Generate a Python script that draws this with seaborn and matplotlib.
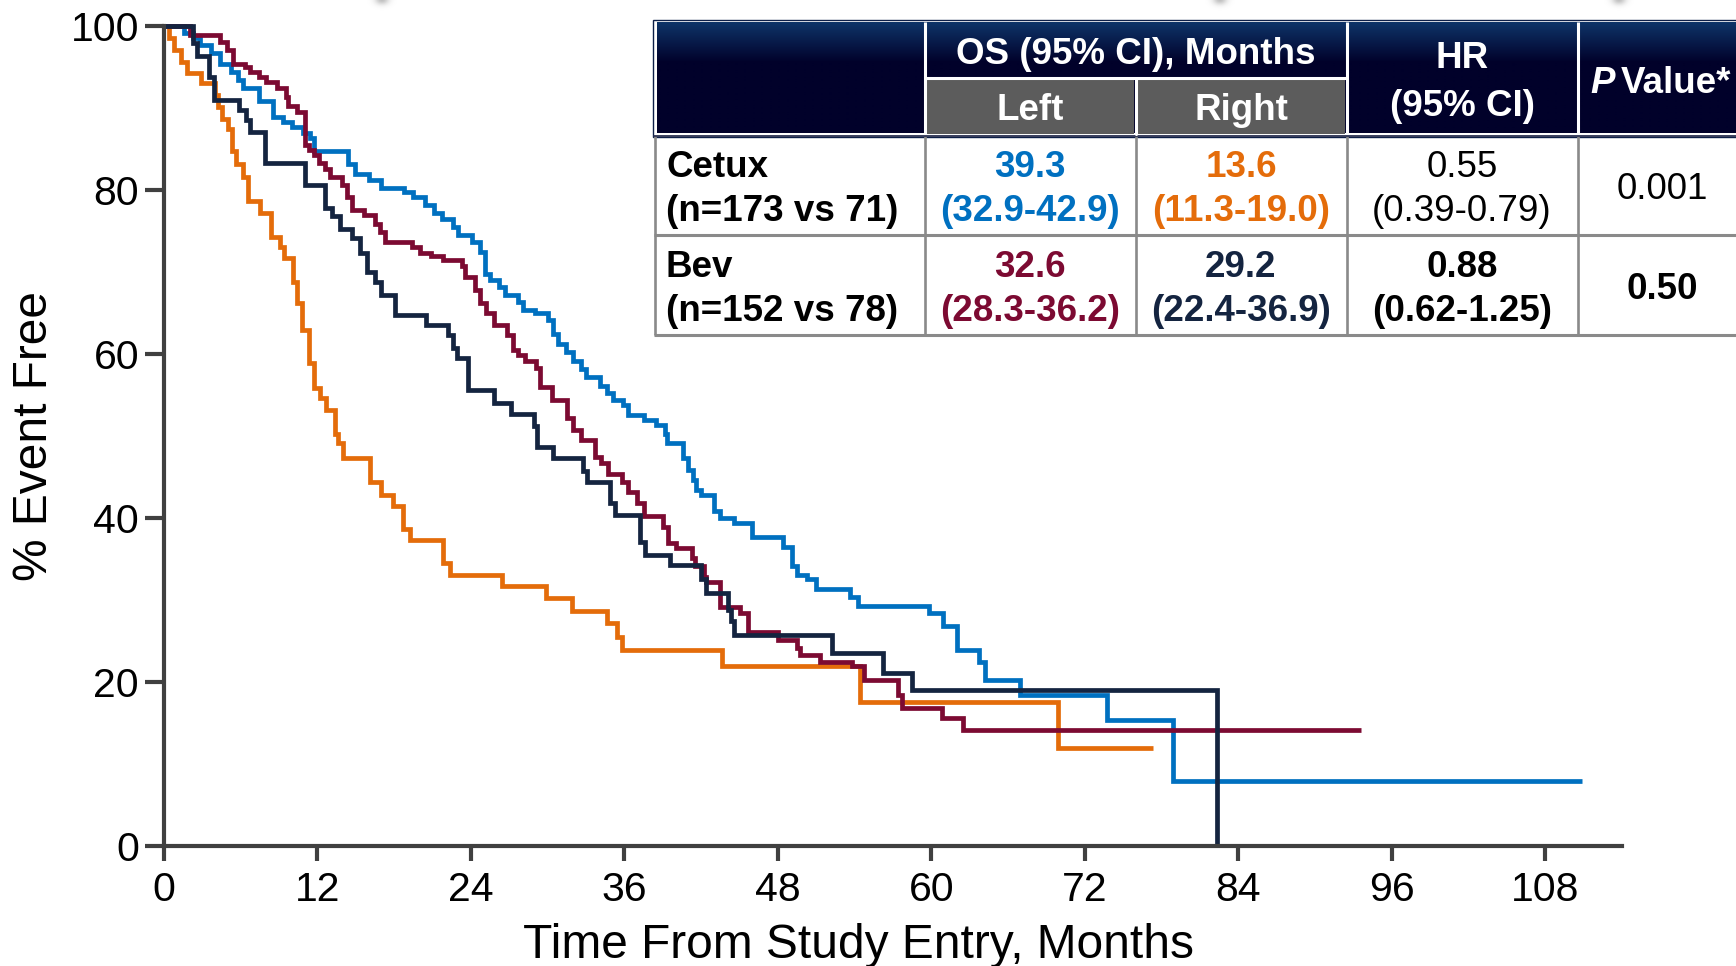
import numpy as np
import pandas as pd
import matplotlib
matplotlib.use("Agg")
import matplotlib.pyplot as plt
from matplotlib.patches import Rectangle
from matplotlib.transforms import blended_transform_factory
import seaborn as sns

# ---------------------------------------------------------------------------
# Kaplan-Meier steps: month of each drop and % event free after the drop
# ---------------------------------------------------------------------------
cetux_left_months = [0, 1.6, 2.3, 2.8, 3.7, 4.4, 5.2, 5.8, 6.2, 7.4, 8.5, 9.3, 10.0, 10.9,
                     11.4, 11.7, 14.4, 14.9, 16.0, 17.0, 18.8, 19.5, 20.4, 21.1, 21.7, 22.6,
                     23.0, 24.1, 24.7, 25.1, 25.5, 26.2, 26.7, 27.7, 28.1, 29.0, 30.0, 30.4,
                     30.8, 31.4, 32.0, 32.6, 33.0, 34.1, 34.6, 35.1, 35.9, 36.3, 37.5, 38.5,
                     39.2, 39.3, 40.6, 41.0, 41.4, 41.6, 42.0, 43.0, 43.5, 44.6, 46.0, 48.4,
                     49.1, 49.5, 50.3, 51.0, 53.6, 54.3, 59.8, 60.9, 62.0, 63.7, 64.2, 66.9,
                     73.7, 78.9, 110.9]
cetux_left_pct = [100, 99.1, 98.5, 97.7, 96.7, 95.4, 94.4, 93.4, 92.4, 90.8, 88.9, 88.3, 87.7,
                  86.9, 86.3, 84.7, 83.2, 82.0, 81.2, 80.2, 79.8, 79.2, 78.2, 77.2, 76.5,
                  75.5, 74.5, 73.7, 72.5, 69.8, 69.0, 68.2, 67.2, 66.4, 65.4, 65.0, 64.2,
                  62.4, 61.2, 60.3, 59.2, 58.2, 57.2, 56.1, 55.3, 54.4, 53.8, 52.6, 51.9,
                  51.3, 50.3, 49.1, 47.3, 45.9, 44.6, 43.4, 42.8, 40.8, 40.0, 39.4, 37.7,
                  36.5, 34.1, 33.1, 32.6, 31.4, 30.4, 29.3, 28.4, 26.8, 23.9, 22.5, 20.3,
                  18.4, 15.4, 7.9, 7.9]

cetux_right_months = [0, 0.4, 0.8, 1.3, 1.8, 2.9, 4.0, 4.25, 4.5, 5.0, 5.3, 5.6, 6.2, 6.6,
                      7.5, 8.4, 9.1, 9.4, 10.1, 10.4, 10.8, 11.3, 11.7, 12.2, 12.7, 13.4,
                      13.6, 14.0, 16.1, 17.0, 17.9, 18.7, 19.2, 21.8, 22.4, 26.4, 29.9, 31.9,
                      34.6, 35.4, 35.8, 43.6, 54.4, 69.9, 77.3]
cetux_right_pct = [100, 98.5, 97.1, 95.6, 94.3, 93.0, 91.6, 90.1, 88.7, 87.5, 84.7, 83.2,
                   81.6, 78.6, 77.2, 74.3, 73.1, 71.7, 68.8, 66.2, 62.9, 58.9, 55.8, 54.6,
                   53.2, 50.3, 49.1, 47.3, 44.4, 42.8, 41.5, 38.7, 37.3, 34.5, 33.1, 31.7,
                   30.3, 28.7, 27.2, 25.5, 23.9, 21.9, 17.6, 11.9, 11.9]

bev_left_months = [0, 2.0, 4.4, 4.9, 5.4, 6.3, 6.7, 7.4, 8.0, 8.8, 9.5, 9.7, 10.4, 11.0,
                   11.3, 11.7, 12.1, 12.6, 13.0, 13.9, 14.3, 14.7, 15.6, 16.5, 16.9, 17.3,
                   19.4, 20.0, 20.9, 21.8, 23.3, 23.5, 24.3, 24.7, 25.2, 25.8, 26.8, 27.3,
                   27.7, 28.2, 29.1, 29.4, 30.3, 31.5, 32.0, 32.6, 33.7, 34.2, 34.7, 35.8,
                   36.3, 37.0, 37.5, 39.0, 39.4, 40.0, 41.3, 41.5, 42.2, 42.4, 43.5, 45.0,
                   45.7, 48.0, 49.5, 49.7, 51.3, 53.8, 54.7, 57.4, 57.7, 60.8, 62.5, 93.6]
bev_left_pct = [100, 98.9, 98.1, 97.1, 95.4, 95.0, 94.4, 93.8, 93.2, 92.4, 91.4, 90.2,
                89.5, 85.5, 84.9, 84.3, 83.3, 82.6, 81.6, 80.6, 79.2, 77.6, 76.9, 75.9,
                74.9, 73.7, 73.1, 72.3, 71.9, 71.5, 70.7, 69.4, 67.8, 66.2, 65.0, 63.5,
                62.3, 60.5, 59.9, 59.1, 58.3, 56.0, 54.4, 52.2, 50.7, 49.5, 47.5, 46.7,
                45.4, 44.4, 43.2, 41.8, 40.2, 38.9, 36.9, 36.3, 35.1, 34.1, 32.8, 32.2,
                29.2, 28.4, 26.1, 25.1, 24.1, 23.3, 22.5, 21.9, 20.3, 18.4, 16.8, 15.6,
                14.2, 14.2]

bev_right_months = [0, 2.3, 2.6, 3.5, 3.9, 5.9, 6.4, 6.7, 7.9, 11.0, 12.6, 13.1, 13.8,
                    14.7, 15.3, 15.9, 16.5, 17.0, 18.1, 20.5, 22.2, 22.6, 22.9, 23.8, 25.8,
                    27.1, 28.9, 29.2, 30.4, 32.8, 33.1, 34.9, 35.3, 37.2, 37.6, 39.6, 42.0,
                    42.4, 44.1, 44.3, 44.6, 52.2, 56.2, 58.5, 82.3]
bev_right_pct = [100, 97.9, 96.3, 93.8, 91.0, 89.8, 88.5, 87.1, 83.3, 80.6, 77.8, 76.8,
                 75.3, 74.1, 72.3, 70.0, 68.8, 67.2, 64.8, 63.5, 62.3, 60.7, 59.5, 55.6,
                 54.0, 52.7, 51.2, 48.7, 47.3, 45.7, 44.4, 41.8, 40.4, 37.1, 35.5, 34.3,
                 32.6, 30.8, 28.8, 27.4, 25.7, 23.5, 21.1, 19.0, 0]

arm_names = ["Cetux Right", "Cetux Left", "Bev Left", "Bev Right"]
arm_colors = ["#E46C0A", "#0070C0", "#7C0A32", "#142440"]

x_ticks = [0, 12, 24, 36, 48, 60, 72, 84, 96, 108]
y_ticks = [0, 20, 40, 60, 80, 100]

# Summary table contents
table_cols = ["Left", "Right"]
table_rows = ["Cetux\n(n=173 vs 71)", "Bev\n(n=152 vs 78)"]
os_median = [["39.3", "13.6"], ["32.6", "29.2"]]
os_ci = [["(32.9-42.9)", "(11.3-19.0)"], ["(28.3-36.2)", "(22.4-36.9)"]]
os_colors = [["#0070C0", "#E46C0A"], ["#7C0A32", "#142440"]]
hr_values = ["0.55\n(0.39-0.79)", "0.88\n(0.62-1.25)"]
p_values = ["0.001", "0.50"]
row_weights = ["normal", "bold"]

# ---------------------------------------------------------------------------
sns.set_theme(style="ticks")
plt.rcParams["font.family"] = ["Liberation Sans", "DejaVu Sans"]

W, H = 1736, 966
fig = plt.figure(figsize=(W / 100, H / 100), dpi=100)
fig.patch.set_facecolor("white")

ax = fig.add_axes([164 / W, 1 - 846 / H, 1458 / W, 820 / H])

frames = []
for name, t, s in [("Cetux Right", cetux_right_months, cetux_right_pct),
                   ("Cetux Left", cetux_left_months, cetux_left_pct),
                   ("Bev Left", bev_left_months, bev_left_pct),
                   ("Bev Right", bev_right_months, bev_right_pct)]:
    frames.append(pd.DataFrame({"month": t, "pct": s, "arm": name}))
km = pd.concat(frames, ignore_index=True)

sns.lineplot(data=km, x="month", y="pct", hue="arm", hue_order=arm_names,
             palette=dict(zip(arm_names, arm_colors)), estimator=None, sort=False,
             drawstyle="steps-post", linewidth=3.4, legend=False, ax=ax,
             clip_on=False, solid_joinstyle="miter", solid_capstyle="butt")

ax.set_xlim(0, 114)
ax.set_ylim(0, 100)
ax.set_xticks(x_ticks)
ax.set_yticks(y_ticks)
ax.set_facecolor("white")

axis_gray = "#404040"
for side in ["top", "right"]:
    ax.spines[side].set_visible(False)
for side in ["left", "bottom"]:
    ax.spines[side].set_linewidth(3.0)
    ax.spines[side].set_color(axis_gray)
ax.spines["left"].set_bounds(0, 100)
ax.tick_params(axis="y", length=14, width=3.0, color=axis_gray, pad=4,
               labelsize=29.5, labelcolor="black")
ax.tick_params(axis="x", length=11, width=3.0, color=axis_gray, pad=7,
               labelsize=29.5, labelcolor="black")

ax.set_xlabel("Time From Study Entry, Months", fontsize=34.5, color="black")
ax.xaxis.set_label_coords(54.3, -(958 - 846) / 820,
                          transform=blended_transform_factory(ax.transData, ax.transAxes))
ax.xaxis.label.set_va("baseline")
ax.set_ylabel("% Event Free", fontsize=34.5, color="black")
ax.yaxis.set_label_coords((35 - 164) / 1458, 0.5)
ax.yaxis.label.set_va("center")

# ---------------------------------------------------------------------------
# Overlay in pixel coordinates for the summary table
# ---------------------------------------------------------------------------
tab = fig.add_axes([0, 0, 1, 1], zorder=5)
tab.patch.set_alpha(0)
tab.axis("off")

# soft grey marks along the top edge
for cx in [382, 1220, 1619]:
    yy, xx = np.mgrid[0:14, 0:30]
    blob = np.exp(-(((xx - 14.5) / 7.0) ** 2 + ((yy + 1) / 5.0) ** 2))
    rgba = np.zeros((14, 30, 4))
    rgba[..., :3] = 0.55
    rgba[..., 3] = 0.55 * blob
    tab.imshow(rgba, extent=(cx - 15, cx + 15, 14, 0), aspect="auto",
               interpolation="bilinear", zorder=1)

x_edges = [655, 924.5, 1135.5, 1346.5, 1577.5, 1750]
body_rows = [135.5, 235, 335]

# header block with navy gradient
tab.add_patch(Rectangle((653, 20), 1100, 116.5, facecolor="white",
                        edgecolor="#0d1f48", linewidth=1.0, zorder=2))
ramp = np.clip(np.arange(112) / 40.0, 0, 1)[:, None]
c_top = np.array([14, 52, 104]) / 255
c_dark = np.array([1, 1, 42]) / 255
grad = c_top * (1 - ramp) + c_dark * ramp
tab.imshow(grad[:, None, :].repeat(2, axis=1), extent=(656.5, 1750, 133.5, 23),
           aspect="auto", interpolation="bilinear", zorder=3)

# grey sub-header cells
tab.add_patch(Rectangle((926, 79), 1134 - 926, 133.5 - 79, facecolor="#5c5c5c",
                        edgecolor="none", zorder=4))
tab.add_patch(Rectangle((1137, 79), 1345 - 1137, 133.5 - 79, facecolor="#5c5c5c",
                        edgecolor="none", zorder=4))

# white separators inside the header
for x in [924.5, 1346.5, 1577.5]:
    tab.plot([x, x], [22, 134], color="white", linewidth=2.2, zorder=5,
             solid_capstyle="butt")
tab.plot([924.5, 1346.5], [77.5, 77.5], color="white", linewidth=2.2, zorder=5)
tab.plot([1135.5, 1135.5], [77.5, 134], color="white", linewidth=2.2, zorder=5)

# body grid
grid_gray = "#8a8a8a"
for x in x_edges[:-1]:
    tab.plot([x, x], [136, 335], color=grid_gray, linewidth=1.9, zorder=4,
             solid_capstyle="butt")
for y in body_rows[1:]:
    tab.plot([654, 1750], [y, y], color=grid_gray, linewidth=2.2, zorder=4,
             solid_capstyle="butt")
tab.plot([654, 1750], [136.3, 136.3], color="#2a3050", linewidth=1.3, zorder=4)

FS = 26.5
em = FS * 100 / 72


def put(x, y_mid, s, color="black", weight="bold", ha="center", style="normal"):
    """Place text so that its cap height is centred on y_mid (pixels)."""
    tab.text(x, y_mid + 0.358 * em, s, color=color, fontsize=FS, fontweight=weight,
             fontstyle=style, ha=ha, va="baseline", zorder=6)


col_mid = [(x_edges[i] + x_edges[i + 1]) / 2 for i in range(len(x_edges) - 1)]
col_mid[-1] = 1662

# header texts
put((x_edges[1] + x_edges[3]) / 2, 51, "OS (95% CI), Months", color="white")
put(col_mid[1], 107, table_cols[0], color="white")
put(col_mid[2], 107, table_cols[1], color="white")
put(col_mid[3], 55, "HR", color="white")
put(col_mid[3], 103, "(95% CI)", color="white")
put(1590, 80, "P", color="white", ha="left", style="italic")
put(1621, 80, "Value*", color="white", ha="left")

# body texts
line_mid = [(164, 208), (263.5, 307.5)]
row_mid = [186, 286]
for r in range(2):
    label_a, label_b = table_rows[r].split("\n")
    put(666, line_mid[r][0], label_a, ha="left")
    put(666, line_mid[r][1], label_b, ha="left")
    for c in range(2):
        put(col_mid[1 + c], line_mid[r][0], os_median[r][c], color=os_colors[r][c])
        put(col_mid[1 + c], line_mid[r][1], os_ci[r][c], color=os_colors[r][c])
    hr_a, hr_b = hr_values[r].split("\n")
    put(col_mid[3], line_mid[r][0], hr_a, weight=row_weights[r])
    put(col_mid[3], line_mid[r][1], hr_b, weight=row_weights[r])
    put(col_mid[4], row_mid[r], p_values[r], weight=row_weights[r])

tab.set_xlim(0, W)
tab.set_ylim(H, 0)

fig.savefig("out.png", dpi=100, facecolor="white")
